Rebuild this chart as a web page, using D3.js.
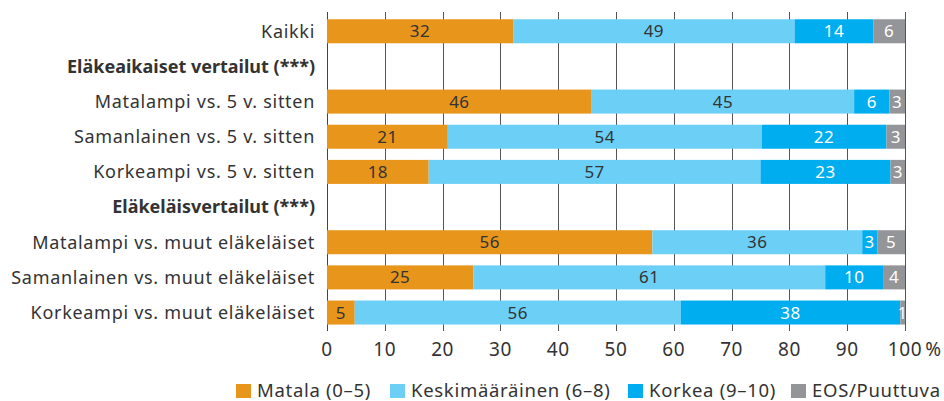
<!DOCTYPE html>
<html>
<head>
<meta charset="utf-8">
<script src="https://cdn.jsdelivr.net/npm/d3@7"></script>
<style>
  body { margin: 0; background: #fff; }
  text { font-family: "Noto Sans", sans-serif; fill: #333; }
</style>
</head>
<body>
<div id="chart"></div>
<script>
var rows = [
    "Kaikki",
    "Eläkeaikaiset vertailut (***)",
    "Matalampi vs. 5 v. sitten",
    "Samanlainen vs. 5 v. sitten",
    "Korkeampi vs. 5 v. sitten",
    "Eläkeläisvertailut (***)",
    "Matalampi vs. muut eläkeläiset",
    "Samanlainen vs. muut eläkeläiset",
    "Korkeampi vs. muut eläkeläiset"
];
var headings = ["Eläkeaikaiset vertailut (***)", "Eläkeläisvertailut (***)"];

var seriesNames = ["Matala (0–5)", "Keskimääräinen (6–8)", "Korkea (9–10)", "EOS/Puuttuva"];
var seriesColors = ["#e8951c", "#6ccff6", "#00aeef", "#939598"];

// osuudet (%) sarjoittain, rivien järjestyksessä (otsikkoriveillä null)
var matala         = [32.2, null, 45.8, 20.9, 17.6, null, 56.3, 25.3, 4.8];
var keskimaarainen = [48.7, null, 45.4, 54.3, 57.4, null, 36.3, 60.9, 56.4];
var korkea         = [13.6, null, 6.1, 21.6, 22.5, null, 2.6, 10.0, 38.0];
var eos            = [5.5, null, 2.7, 3.2, 2.5, null, 4.8, 3.8, 0.8];

var xTicks = [0, 10, 20, 30, 40, 50, 60, 70, 80, 90, 100];

var width = 944, height = 401;
var margin = { top: 0, right: 39, left: 327 };

var series = [matala, keskimaarainen, korkea, eos];

var svg = d3.select("#chart").append("svg")
    .attr("width", width)
    .attr("height", height);

var x = d3.scaleLinear().domain([0, 100]).range([margin.left, width - margin.right]);
var y = d3.scaleBand().domain(rows).range([13.7, 330.1]).paddingInner(0.317).paddingOuter(0.158);

// gridlines
svg.append("g")
    .selectAll("line")
    .data(xTicks)
    .enter().append("line")
    .attr("x1", function(d) { return Math.round(x(d)) + 0.5; })
    .attr("x2", function(d) { return Math.round(x(d)) + 0.5; })
    .attr("y1", 12)
    .attr("y2", 331)
    .attr("stroke", function(d) { return d === 0 ? "#444" : "#555"; })
    .attr("stroke-width", 1);

// tick labels
var tickG = svg.append("g");
tickG.selectAll("text")
    .data(xTicks)
    .enter().append("text")
    .attr("x", function(d) { return x(d); })
    .attr("y", 356)
    .attr("text-anchor", "middle")
    .style("font-size", "19px")
    .style("letter-spacing", "0.6px")
    .text(function(d) { return d; });

// "100 %": keep the number centred on its gridline
tickG.selectAll("text").filter(function(d) { return d === 100; })
    .each(function() {
        var t = d3.select(this);
        var w = this.getComputedTextLength();
        t.attr("text-anchor", "start").attr("x", x(100) - w / 2);
        t.append("tspan").style("letter-spacing", "0px").text("\u2009%");
    });

// category labels
svg.append("g")
    .selectAll("text")
    .data(rows)
    .enter().append("text")
    .attr("x", margin.left - 12)
    .attr("y", function(d) { return y(d) + y.bandwidth() / 2; })
    .attr("dy", "0.35em")
    .attr("text-anchor", "end")
    .style("font-size", "18px")
    .style("letter-spacing", function(d) { return headings.indexOf(d) >= 0 ? "0px" : "0.7px"; })
    .style("font-weight", function(d) { return headings.indexOf(d) >= 0 ? "bold" : "normal"; })
    .text(function(d) { return d; });

// stacked bars
var segments = [];
rows.forEach(function(r, i) {
    if (matala[i] === null) return;
    var acc = 0;
    series.forEach(function(s, k) {
        segments.push({ row: r, k: k, x0: acc, x1: acc + s[i], v: s[i] });
        acc += s[i];
    });
});

var seg = svg.append("g")
    .selectAll("g")
    .data(segments)
    .enter().append("g");

seg.append("rect")
    .attr("x", function(d) { return x(d.x0); })
    .attr("y", function(d) { return y(d.row); })
    .attr("width", function(d) { return x(d.x1) - x(d.x0); })
    .attr("height", y.bandwidth())
    .attr("fill", function(d) { return seriesColors[d.k]; });

seg.append("text")
    .attr("x", function(d) { return (x(d.x0) + x(d.x1)) / 2; })
    .attr("y", function(d) { return y(d.row) + y.bandwidth() / 2; })
    .attr("dy", "0.36em")
    .attr("text-anchor", "middle")
    .style("font-size", "17px")
    .style("letter-spacing", "0.5px")
    .style("fill", function(d) { return d.k >= 2 ? "#fff" : "#333"; })
    .text(function(d) { return Math.round(d.v); });

// legend
var legendX = [236, 390, 628, 791];
var legend = svg.append("g")
    .selectAll("g")
    .data(seriesNames)
    .enter().append("g")
    .attr("transform", function(d, i) { return "translate(" + legendX[i] + ",384)"; });

legend.append("rect")
    .attr("width", 15)
    .attr("height", 14)
    .attr("fill", function(d, i) { return seriesColors[i]; });

legend.append("text")
    .attr("x", 21)
    .attr("y", 13)
    .style("font-size", "18.5px")
    .style("letter-spacing", "0.7px")
    .text(function(d) { return d; });
</script>
</body>
</html>
